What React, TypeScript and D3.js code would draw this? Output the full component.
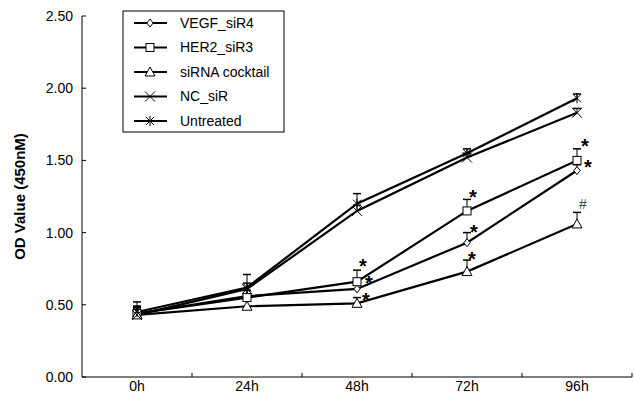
import React from "react";
import * as d3 from "d3";

const categories = ["0h", "24h", "48h", "72h", "96h"];
const seriesNames = ["VEGF_siR4", "HER2_siR3", "siRNA cocktail", "NC_siR", "Untreated"];
const markerKinds = ["diamond", "square", "triangle", "x", "asterisk"];
const vegfValues = [0.44, 0.56, 0.61, 0.93, 1.43];
const her2Values = [0.44, 0.55, 0.66, 1.15, 1.5];
const cocktailValues = [0.43, 0.49, 0.51, 0.73, 1.06];
const ncValues = [0.43, 0.61, 1.15, 1.52, 1.83];
const untreatedValues = [0.45, 0.62, 1.2, 1.55, 1.93];
const vegfErr = [0.05, 0.04, 0.06, 0.07, 0.04];
const her2Err = [0.05, 0.05, 0.08, 0.08, 0.08];
const cocktailErr = [0.04, 0.04, 0.04, 0.08, 0.08];
const ncErr = [0.05, 0.04, 0.04, 0.03, 0.03];
const untreatedErr = [0.07, 0.09, 0.07, 0.03, 0.03];
const yTicks = [0, 0.5, 1.0, 1.5, 2.0, 2.5];
// significance marks: [category index, series index, symbol]
const marks: [number, number, string][] = [
  [2, 1, "*"], [2, 0, "*"], [2, 2, "*"],
  [3, 1, "*"], [3, 0, "*"], [3, 2, "*"],
  [4, 1, "*"], [4, 0, "*"], [4, 2, "#"],
];

const allValues = [vegfValues, her2Values, cocktailValues, ncValues, untreatedValues];
const allErr = [vegfErr, her2Err, cocktailErr, ncErr, untreatedErr];

const W = 634, H = 397;
const L = 82, R = 632, T = 16, B = 377;

function Marker({ kind, x, y }: { kind: string; x: number; y: number }) {
  const s = 4;
  const st = { stroke: "#000", strokeWidth: 1, fill: "#fff" };
  if (kind === "diamond") return <path d={`M${x},${y - s}L${x + s * 0.8},${y}L${x},${y + s}L${x - s * 0.8},${y}Z`} {...st} />;
  if (kind === "square") return <rect x={x - s} y={y - s} width={2 * s} height={2 * s} {...st} />;
  if (kind === "triangle") return <path d={`M${x},${y - s - 1}L${x + s + 1},${y + s}L${x - s - 1},${y + s}Z`} {...st} />;
  if (kind === "x") return <path d={`M${x - s - 1},${y - s - 1}L${x + s + 1},${y + s + 1}M${x - s - 1},${y + s + 1}L${x + s + 1},${y - s - 1}`} stroke="#000" strokeWidth={1} fill="none" />;
  return <path d={`M${x - s},${y - s}L${x + s},${y + s}M${x - s},${y + s}L${x + s},${y - s}M${x},${y - s - 1}L${x},${y + s + 1}`} stroke="#000" strokeWidth={1} fill="none" />;
}

export default function App() {
  const x = d3.scaleBand<string>().domain(categories).range([L, R]);
  const y = d3.scaleLinear().domain([0, 2.5]).range([B, T]);
  const cx = (c: string) => (x(c) as number) + x.bandwidth() / 2;
  const line = d3.line<number>().x((_, i) => cx(categories[i])).y((v) => y(v));
  // offsets of mark centre from the data point
  const markOffsets: Record<string, [number, number]> = {
    "2-1": [6, -20], "2-0": [12, -10], "2-2": [9, -8],
    "3-1": [6, -18], "3-0": [7, -15], "3-2": [5, -17],
    "4-1": [8, -19], "4-0": [11, -8], "4-2": [6, -20],
  };
  const font = "Liberation Sans, Arial, sans-serif";
  return (
    <svg width={W} height={H} style={{ position: "absolute", left: 0, top: 0, background: "#fff" }} fontFamily={font}>
      <rect x={0} y={0} width={W} height={H} fill="#fff" />
      {/* axes */}
      <line x1={L} x2={L} y1={T} y2={B} stroke="#000" strokeWidth={1} />
      <line x1={L} x2={R} y1={B} y2={B} stroke="#000" strokeWidth={1} />
      {yTicks.map((t) => (
        <g key={t}>
          <line x1={L} x2={L + 4} y1={y(t)} y2={y(t)} stroke="#000" />
          <text x={L - 9} y={y(t)} dy="0.35em" textAnchor="end" fontSize={14} fill="#000">{t.toFixed(2)}</text>
        </g>
      ))}
      {categories.map((c) => (
        <g key={c}>
          <line x1={(x(c) as number) + x.bandwidth()} x2={(x(c) as number) + x.bandwidth()} y1={B} y2={B - 4} stroke="#000" />
          <text x={cx(c)} y={391} textAnchor="middle" fontSize={14} fill="#000">{c}</text>
        </g>
      ))}
      <text transform={`translate(25,${(T + B) / 2}) rotate(-90)`} textAnchor="middle" fontSize={15} fontWeight="bold" fill="#000">OD Value (450nM)</text>
      {/* lines */}
      {allValues.map((vals, si) => (
        <path key={si} d={line(vals) as string} fill="none" stroke="#000" strokeWidth={2.2} />
      ))}
      {/* error bars */}
      {allValues.map((vals, si) =>
        vals.map((v, i) => (
          <g key={`e${si}-${i}`}>
            <line x1={cx(categories[i])} x2={cx(categories[i])} y1={y(v)} y2={y(v + allErr[si][i])} stroke="#000" strokeWidth={1} />
            <line x1={cx(categories[i]) - 4} x2={cx(categories[i]) + 4} y1={y(v + allErr[si][i])} y2={y(v + allErr[si][i])} stroke="#000" strokeWidth={1.5} />
          </g>
        ))
      )}
      {/* markers */}
      {allValues.map((vals, si) =>
        vals.map((v, i) => <Marker key={`m${si}-${i}`} kind={markerKinds[si]} x={cx(categories[i])} y={y(v)} />)
      )}
      {/* significance marks */}
      {marks.map(([ci, si, sym]) => {
        const off = markOffsets[`${ci}-${si}`];
        const star = sym === "*";
        const fs = star ? 20 : 14;
        const centreY = y(allValues[si][ci]) + off[1];
        const baseY = star ? centreY + fs * 0.57 : centreY + fs * 0.36;
        return (
          <text key={`s${ci}-${si}`} x={cx(categories[ci]) + off[0]} y={baseY} textAnchor="middle"
            fontSize={fs} fontWeight={star ? "bold" : "normal"} fill={star ? "#000" : "#444"}>{sym}</text>
        );
      })}
      {/* legend */}
      <rect x={123} y={11} width={161} height={121} fill="#fff" stroke="#000" strokeWidth={1} />
      {seriesNames.map((n, i) => {
        const ly = 23 + i * 24.5;
        return (
          <g key={n}>
            <line x1={134} x2={167} y1={ly} y2={ly} stroke="#000" strokeWidth={2} />
            <Marker kind={markerKinds[i]} x={150} y={ly} />
            <text x={180} y={ly} dy="0.35em" fontSize={14} fill="#000">{n}</text>
          </g>
        );
      })}
    </svg>
  );
}
